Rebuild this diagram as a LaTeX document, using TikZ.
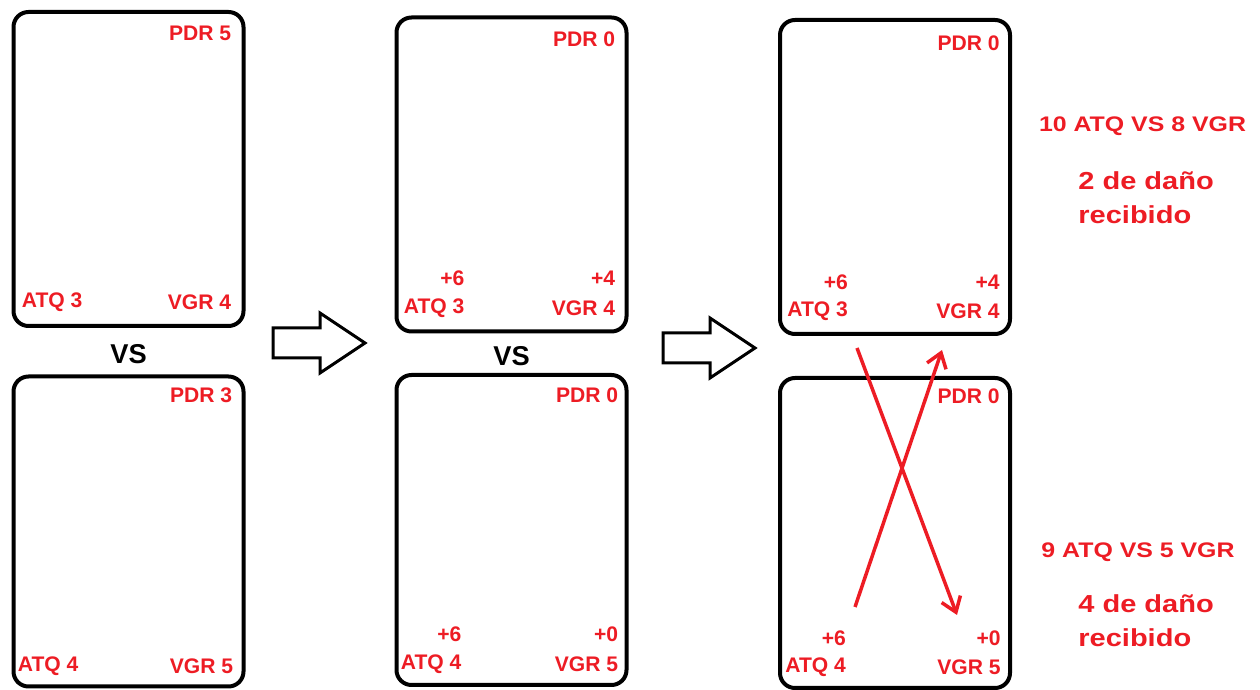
\documentclass[tikz,border=0pt]{standalone}
\usepackage{fontspec}
\setmainfont{Liberation Sans}
\newfontfamily\widefont[FakeStretch=1.18]{Liberation Sans}
\usetikzlibrary{positioning,calc,arrows.meta}
\definecolor{paintred}{RGB}{237,28,36}

\begin{document}
\begin{tikzpicture}[
  card/.style = {shape=rectangle, rounded corners=0.3cm,
    draw, line width=0.08cm, minimum width=4.6cm},
  stat/.style = {text=paintred, inner sep=0pt,
    font=\fontsize{12}{14}\selectfont\bfseries}]
    \tikzstyle{top card}=[card, minimum height=6.28cm]
    \tikzstyle{bottom card}=[card, minimum height=6.2cm]
    \tikzstyle{vs}=[inner sep=0pt, yshift=-0.05cm, font=\fontsize{15.5}{17}\selectfont\bfseries]
    \tikzstyle{result}=[text=paintred, inner sep=0pt,
      font=\widefont\fontsize{12}{14}\selectfont\bfseries]
    \tikzstyle{damage}=[text=paintred, inner sep=0pt, align=left, anchor=north west,
      font=\widefont\fontsize{14}{19.5}\selectfont\bfseries]
    \tikzstyle{hollow}=[draw, line width=0.06cm, fill=white, line join=miter]
    \tikzstyle{hit}=[draw=paintred, line width=0.07cm,
      -{Straight Barb[length=0.28cm,width=0.4cm]}]
  \useasboundingbox (0,0) rectangle (25.2,13.8);

  % first pair
  \node[top card] (c1t) at (2.57,10.42) {};
  \node[stat, anchor=east] (c1t-pdr) at ([xshift=-0.28cm, yshift=-0.46cm]c1t.north east) {PDR 5};
  \node[stat, anchor=west] (c1t-atq) at ([xshift=0.2cm, yshift=0.52cm]c1t.south west) {ATQ 3};
  \node[stat, anchor=east] (c1t-vgr) at ([xshift=-0.28cm, yshift=0.52cm]c1t.south east) {VGR 4};
  \node[bottom card] (c1b) at (2.57,3.17) {};
  \node[stat, anchor=east] (c1b-pdr) at ([xshift=-0.26cm, yshift=-0.42cm]c1b.north east) {PDR 3};
  \node[stat, anchor=west] (c1b-atq) at ([xshift=0.12cm, yshift=0.44cm]c1b.south west) {ATQ 4};
  \node[stat, anchor=east] (c1b-vgr) at ([xshift=-0.24cm, yshift=0.44cm]c1b.south east) {VGR 5};
  \node[vs] (vs1) at ($(c1t.south)!0.5!(c1b.north)$) {VS};

  % second pair
  \node[top card] (c2t) at (10.23,10.31) {};
  \node[stat, anchor=east] (c2t-pdr) at ([xshift=-0.26cm, yshift=-0.48cm]c2t.north east) {PDR 0};
  \node[stat, anchor=west] (c2t-atq) at ([xshift=0.18cm, yshift=0.5cm]c2t.south west) {ATQ 3};
  \node[stat, anchor=east] (c2t-vgr) at ([xshift=-0.26cm, yshift=0.5cm]c2t.south east) {VGR 4};
  \node[stat, anchor=east] (c2t-bon) at ([yshift=0.6cm]c2t-atq.east) {+6};
  \node[stat, anchor=east] (c2t-def) at ([yshift=0.6cm]c2t-vgr.east) {+4};
  \node[bottom card] (c2b) at (10.23,3.2) {};
  \node[stat, anchor=east] (c2b-pdr) at ([xshift=-0.2cm, yshift=-0.44cm]c2b.north east) {PDR 0};
  \node[stat, anchor=west] (c2b-atq) at ([xshift=0.12cm, yshift=0.46cm]c2b.south west) {ATQ 4};
  \node[stat, anchor=east] (c2b-vgr) at ([xshift=-0.2cm, yshift=0.46cm]c2b.south east) {VGR 5};
  \node[stat, anchor=east] (c2b-bon) at ([yshift=0.6cm]c2b-atq.east) {+6};
  \node[stat, anchor=east] (c2b-def) at ([yshift=0.6cm]c2b-vgr.east) {+0};
  \node[vs] (vs2) at ($(c2t.south)!0.5!(c2b.north)$) {VS};

  % third pair
  \node[top card] (c3t) at (17.9,10.26) {};
  \node[stat, anchor=east] (c3t-pdr) at ([xshift=-0.24cm, yshift=-0.5cm]c3t.north east) {PDR 0};
  \node[stat, anchor=west] (c3t-atq) at ([xshift=0.18cm, yshift=0.5cm]c3t.south west) {ATQ 3};
  \node[stat, anchor=east] (c3t-vgr) at ([xshift=-0.24cm, yshift=0.5cm]c3t.south east) {VGR 4};
  \node[stat, anchor=east] (c3t-bon) at ([yshift=0.58cm]c3t-atq.east) {+6};
  \node[stat, anchor=east] (c3t-def) at ([yshift=0.58cm]c3t-vgr.east) {+4};
  \node[bottom card] (c3b) at (17.9,3.14) {};
  \node[stat, anchor=east] (c3b-pdr) at ([xshift=-0.24cm, yshift=-0.4cm]c3b.north east) {PDR 0};
  \node[stat, anchor=west] (c3b-atq) at ([xshift=0.14cm, yshift=0.46cm]c3b.south west) {ATQ 4};
  \node[stat, anchor=east] (c3b-vgr) at ([xshift=-0.22cm, yshift=0.46cm]c3b.south east) {VGR 5};
  \node[stat, anchor=east] (c3b-bon) at ([yshift=0.58cm]c3b-atq.east) {+6};
  \node[stat, anchor=east] (c3b-def) at ([yshift=0.58cm]c3b-vgr.east) {+0};

  \foreach \x/\y in {5.46/6.94, 13.26/6.84}
    \draw[hollow] (\x,\y) ++(0,0.3) -- ++(0.94,0) -- ++(0,0.3) -- ++(0.9,-0.6)
      -- ++(-0.9,-0.6) -- ++(0,0.3) -- ++(-0.94,0) -- cycle;

  \coordinate (atk-from) at (17.14,6.84);
  \coordinate (atk-to) at (19.14,1.5);
  \coordinate (ctr-from) at (17.1,1.66);
  \coordinate (ctr-to) at (18.84,6.8);
  \draw[hit] (atk-from) -- (atk-to);
  \draw[hit] (ctr-from) -- (ctr-to);

  \node[result] (sum1) at (22.85,11.28) {10 ATQ VS 8 VGR};
  \node[damage] (dmg1) at (21.56,10.38) {2 de daño\\recibido};
  \node[result] (sum2) at (22.76,2.76) {9 ATQ VS 5 VGR};
  \node[damage] (dmg2) at (21.56,1.92) {4 de daño\\recibido};
\end{tikzpicture}
\end{document}
